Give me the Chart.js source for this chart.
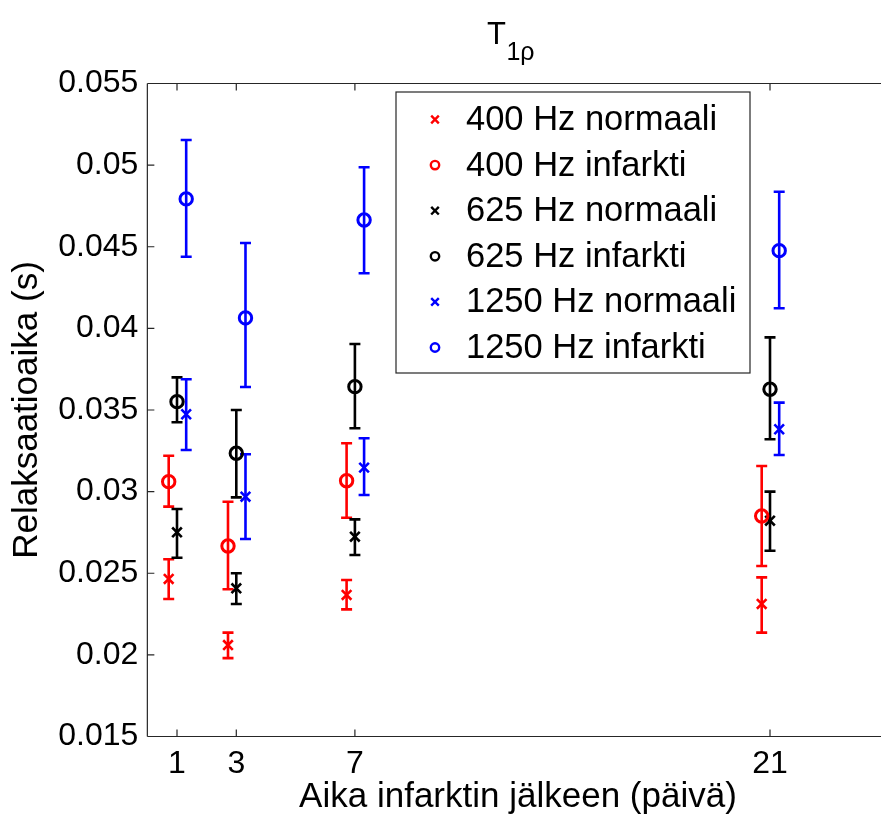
<!DOCTYPE html>
<html><head><meta charset="utf-8">
<script src="https://cdn.jsdelivr.net/npm/chart.js@4.4.1/dist/chart.umd.min.js"></script>
<style>html,body{margin:0;padding:0;background:#fff;overflow:hidden;}#wrap{width:900px;height:816px;}</style>
</head><body><div id="wrap"><canvas id="c" width="900" height="816"></canvas></div>
<script>
// ---- data ----
const days = [1, 3, 7, 21];
const xTicks = [1, 3, 7, 21];
const yTicks = [0.015, 0.02, 0.025, 0.03, 0.035, 0.04, 0.045, 0.05, 0.055];
const seriesLabels = ['400 Hz normaali', '400 Hz infarkti', '625 Hz normaali', '625 Hz infarkti', '1250 Hz normaali', '1250 Hz infarkti'];
const dayOffset400 = -0.28, dayOffset625 = 0, dayOffset1250 = 0.31;

const normaali400    = [0.02465, 0.0206,  0.02367, 0.02312];
const normaali400Lo  = [0.02342, 0.0198,  0.02279, 0.02136];
const normaali400Hi  = [0.02586, 0.02136, 0.02459, 0.02475];
const infarkti400    = [0.03061, 0.02667, 0.03067, 0.02851];
const infarkti400Lo  = [0.02908, 0.02402, 0.0284,  0.02544];
const infarkti400Hi  = [0.0322,  0.02938, 0.03296, 0.03157];
const normaali625    = [0.02751, 0.02408, 0.02724, 0.02822];
const normaali625Lo  = [0.02595, 0.02312, 0.02612, 0.02638];
const normaali625Hi  = [0.02894, 0.025,   0.0283,  0.03];
const infarkti625    = [0.03551, 0.03235, 0.03643, 0.03627];
const infarkti625Lo  = [0.03425, 0.02965, 0.03388, 0.03321];
const infarkti625Hi  = [0.0370,  0.035,   0.03904, 0.03945];
const normaali1250   = [0.03474, 0.02969, 0.03147, 0.03382];
const normaali1250Lo = [0.03255, 0.0271,  0.02979, 0.03224];
const normaali1250Hi = [0.03688, 0.03229, 0.03327, 0.03545];
const infarkti1250   = [0.04793, 0.04064, 0.04664, 0.04476];
const infarkti1250Lo = [0.04439, 0.03641, 0.04338, 0.04123];
const infarkti1250Hi = [0.05154, 0.04523, 0.04987, 0.04837];

const FONT = '"Liberation Sans", Arial, Helvetica, sans-serif';

function pts(vals, off) { return vals.map((v, i) => ({ x: days[i] + off, y: v })); }
function ds(label, vals, lo, hi, off, color, style) {
  return {
    label, data: pts(vals, off), errLo: lo, errHi: hi,
    borderColor: color, backgroundColor: 'rgba(0,0,0,0)',
    pointStyle: style, pointRadius: style === 'circle' ? 6.2 : 6.8,
    pointBorderWidth: style === 'circle' ? 3 : 2.6,
    pointHoverRadius: 6, showLine: false
  };
}
const datasets = [
  ds(seriesLabels[0], normaali400,  normaali400Lo,  normaali400Hi,  dayOffset400,  '#ff0000', 'crossRot'),
  ds(seriesLabels[1], infarkti400,  infarkti400Lo,  infarkti400Hi,  dayOffset400,  '#ff0000', 'circle'),
  ds(seriesLabels[2], normaali625,  normaali625Lo,  normaali625Hi,  dayOffset625,  '#000000', 'crossRot'),
  ds(seriesLabels[3], infarkti625,  infarkti625Lo,  infarkti625Hi,  dayOffset625,  '#000000', 'circle'),
  ds(seriesLabels[4], normaali1250, normaali1250Lo, normaali1250Hi, dayOffset1250, '#0000ff', 'crossRot'),
  ds(seriesLabels[5], infarkti1250, infarkti1250Lo, infarkti1250Hi, dayOffset1250, '#0000ff', 'circle')
];

const errorBars = {
  id: 'errorBars',
  beforeDatasetsDraw(chart) {
    const ctx = chart.ctx, ys = chart.scales.y;
    chart.data.datasets.forEach((d, di) => {
      const meta = chart.getDatasetMeta(di);
      ctx.save();
      ctx.strokeStyle = d.borderColor; ctx.lineWidth = 2.6; ctx.lineCap = 'butt';
      meta.data.forEach((p, i) => {
        const x = p.x, y1 = ys.getPixelForValue(d.errLo[i]), y2 = ys.getPixelForValue(d.errHi[i]);
        const cw = 5.5;
        ctx.beginPath();
        ctx.moveTo(x, y1); ctx.lineTo(x, y2);
        ctx.moveTo(x - cw, y1); ctx.lineTo(x + cw, y1);
        ctx.moveTo(x - cw, y2); ctx.lineTo(x + cw, y2);
        ctx.stroke();
      });
      ctx.restore();
    });
  }
};

const frame = {
  id: 'frame',
  afterDraw(chart) {
    const ctx = chart.ctx, a = chart.chartArea, xs = chart.scales.x, ys = chart.scales.y;
    ctx.save();
    ctx.strokeStyle = '#262626'; ctx.lineWidth = 1.2;
    ctx.beginPath();
    ctx.moveTo(a.left, a.top); ctx.lineTo(chart.width, a.top);
    ctx.moveTo(a.left, a.bottom); ctx.lineTo(chart.width, a.bottom);
    ctx.moveTo(a.left, a.top); ctx.lineTo(a.left, a.bottom);
    const tl = 7;
    xs.ticks.forEach(t => {
      const x = xs.getPixelForValue(t.value);
      ctx.moveTo(x, a.bottom); ctx.lineTo(x, a.bottom - tl);
      ctx.moveTo(x, a.top); ctx.lineTo(x, a.top + tl);
    });
    ys.ticks.forEach(t => {
      const y = ys.getPixelForValue(t.value);
      ctx.moveTo(a.left, y); ctx.lineTo(a.left + tl, y);
    });
    ctx.stroke();

    // title T_{1rho}
    ctx.fillStyle = '#000';
    ctx.textBaseline = 'alphabetic';
    ctx.textAlign = 'left';
    ctx.font = '31px ' + FONT;
    const tx = 487;
    ctx.fillText('T', tx, 44);
    const tw = ctx.measureText('T').width;
    ctx.font = '25px ' + FONT;
    ctx.fillText('1ρ', tx + tw + 0.5, 60);

    // legend
    const L = 396, T = 92, R = 750, B = 373;
    ctx.strokeStyle = '#262626'; ctx.lineWidth = 1.2;
    ctx.fillStyle = '#fff';
    ctx.fillRect(L, T, R - L, B - T);
    ctx.strokeRect(L, T, R - L, B - T);
    ctx.font = '34.5px ' + FONT;
    ctx.textBaseline = 'middle';
    chart.data.datasets.forEach((d, i) => {
      const cy = T + 27.5 + i * 45.6, mx = 435;
      ctx.strokeStyle = d.borderColor; ctx.lineWidth = 2.4;
      ctx.beginPath();
      if (d.pointStyle === 'circle') {
        ctx.arc(mx, cy, 4.2, 0, Math.PI * 2);
      } else {
        ctx.moveTo(mx - 3.8, cy - 3.8); ctx.lineTo(mx + 3.8, cy + 3.8);
        ctx.moveTo(mx - 3.8, cy + 3.8); ctx.lineTo(mx + 3.8, cy - 3.8);
      }
      ctx.stroke();
      ctx.fillStyle = '#000';
      ctx.fillText(d.label, 466, cy + 1);
    });
    ctx.restore();
  }
};

new Chart(document.getElementById('c'), {
  type: 'scatter',
  data: { datasets },
  options: {
    responsive: false, animation: false, devicePixelRatio: 1,
    layout: { padding: { top: 83.5, right: 11.4, left: 0, bottom: 0 } },
    plugins: { legend: { display: false }, tooltip: { enabled: false }, title: { display: false } },
    scales: {
      x: {
        type: 'linear', min: 0, max: 25,
        grid: { display: false, drawTicks: false }, border: { display: false },
        afterBuildTicks: s => { s.ticks = xTicks.map(v => ({ value: v })); },
        afterFit: s => { s.height = 79.5; },
        ticks: { color: '#000', font: { family: FONT, size: 32 }, padding: 8, autoSkip: false, maxRotation: 0,
                 callback: v => String(v) },
        title: { display: true, text: 'Aika infarktin jälkeen (päivä)', color: '#000',
                 font: { family: FONT, size: 35, lineHeight: 1.05 }, padding: { top: 0, bottom: 0 } }
      },
      y: {
        type: 'linear', min: 0.015, max: 0.055,
        grid: { display: false, drawTicks: false }, border: { display: false },
        afterBuildTicks: s => { s.ticks = yTicks.map(v => ({ value: v })); },
        afterFit: s => { s.width = 147.35; },
        ticks: { color: '#000', font: { family: FONT, size: 32 }, padding: 9,
                 callback: v => String(Number(v.toFixed(3))) },
        title: { display: true, text: 'Relaksaatioaika (s)', color: '#000',
                 font: { family: FONT, size: 35 }, padding: { top: 6, bottom: 0 } }
      }
    }
  },
  plugins: [errorBars, frame]
});
</script></body></html>
